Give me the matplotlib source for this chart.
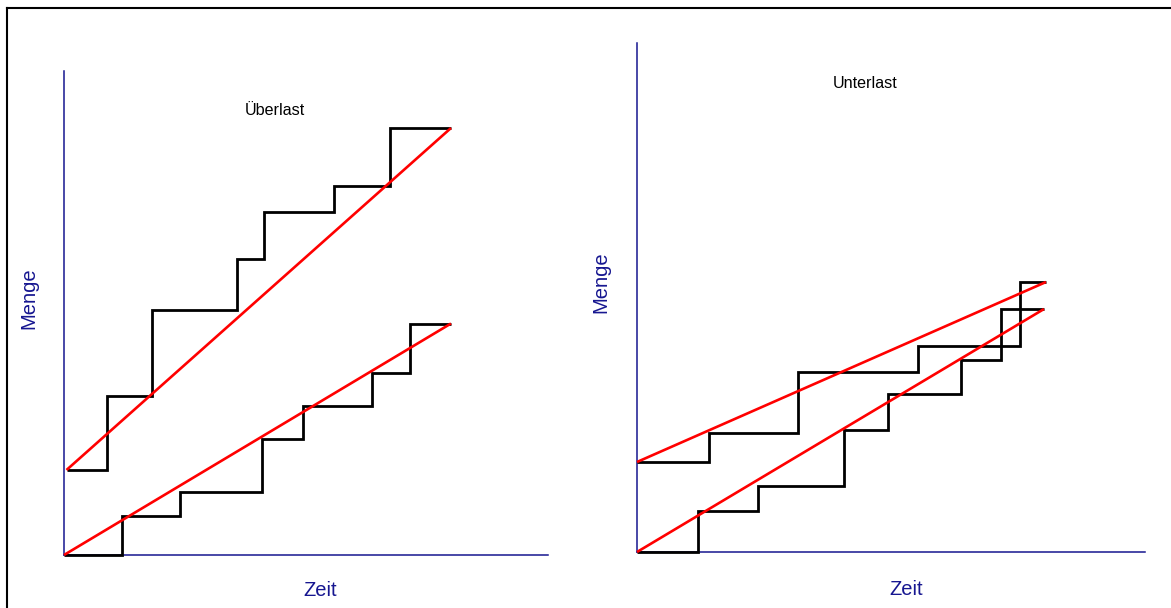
import matplotlib
matplotlib.use("Agg")
import matplotlib.pyplot as plt
from matplotlib.lines import Line2D

plt.rcParams['font.family'] = ['Liberation Sans', 'DejaVu Sans']

# ---- data (arbitrary units: Zeit / Menge) ----
# Left panel "Überlast"
ueber_upper_times = [0.25, 4.3, 8.8, 17.3, 20.0, 27.0, 32.6, 38.7]
ueber_upper_qty = [8.5, 15.95, 24.5, 29.6, 34.3, 36.9, 42.7]
ueber_lower_times = [0.0, 5.8, 11.6, 19.8, 23.9, 30.8, 34.6, 38.7]
ueber_lower_qty = [0.0, 3.9, 6.35, 11.6, 14.95, 18.2, 23.15]

# Right panel "Unterlast"
unter_upper_times = [0.0, 7.2, 16.1, 28.1, 38.3, 40.9]
unter_upper_qty = [9.0, 11.9, 18.0, 20.6, 27.0]
unter_lower_times = [0.0, 6.1, 12.1, 20.7, 25.1, 32.4, 36.4, 40.7]
unter_lower_qty = [0.0, 4.1, 6.6, 12.2, 15.8, 19.2, 24.3]

titles = ["Überlast", "Unterlast"]
xlabel = "Zeit"
ylabel = "Menge"

AXIS_COLOR = "#161690"
W, H = 1171, 608
fig = plt.figure(figsize=(W / 100, H / 100), dpi=100)
fig.patch.set_facecolor("white")

# outer frame (left and top edges visible)
fig.add_artist(Line2D([7 / W, 7 / W], [1 - 8 / H, 0], transform=fig.transFigure,
                      color="black", lw=1.5))
fig.add_artist(Line2D([7 / W, 1], [1 - 8 / H, 1 - 8 / H], transform=fig.transFigure,
                      color="black", lw=1.5))

def px_axes(x0, y_bottom, x1, y_top):
    return [x0 / W, (H - y_bottom) / H, (x1 - x0) / W, (y_bottom - y_top) / H]

ax1 = fig.add_axes(px_axes(64, 555, 548, 71))
ax2 = fig.add_axes(px_axes(637, 552, 1145, 43))
ax1.set_xlim(0, 48.4); ax1.set_ylim(0, 48.4)
ax2.set_xlim(0, 50.8); ax2.set_ylim(0, 50.9)

panels = [
    (ax1, [(ueber_upper_times, ueber_upper_qty), (ueber_lower_times, ueber_lower_qty)],
     titles[0], (0.435, 0.918)),
    (ax2, [(unter_upper_times, unter_upper_qty), (unter_lower_times, unter_lower_qty)],
     titles[1], (0.450, 0.921)),
]

for ax, series, title, tpos in panels:
    ax.set_facecolor("none")
    for s in ["top", "right"]:
        ax.spines[s].set_visible(False)
    for s in ["left", "bottom"]:
        ax.spines[s].set_color(AXIS_COLOR)
        ax.spines[s].set_linewidth(1.1)
    ax.set_xticks([]); ax.set_yticks([])
    for times, qty in series:
        ax.stairs(qty, times, baseline=None, color="black", lw=2.0, clip_on=False, zorder=3)
        ax.plot([times[0], times[-1]], [qty[0], qty[-1]], color="#ff0000", lw=1.9,
                clip_on=False, zorder=4, solid_capstyle="butt")
    ax.text(tpos[0], tpos[1], title, transform=ax.transAxes, ha="center", va="center",
            fontsize=11.6, color="black")
    ax.text(-0.072, 0.53, ylabel, transform=ax.transAxes, rotation=90, ha="center",
            va="center", fontsize=14.5, color=AXIS_COLOR)
    ax.text(0.53, -0.074, xlabel, transform=ax.transAxes, ha="center", va="center",
            fontsize=14.5, color=AXIS_COLOR)

fig.savefig("out.png", dpi=100)
